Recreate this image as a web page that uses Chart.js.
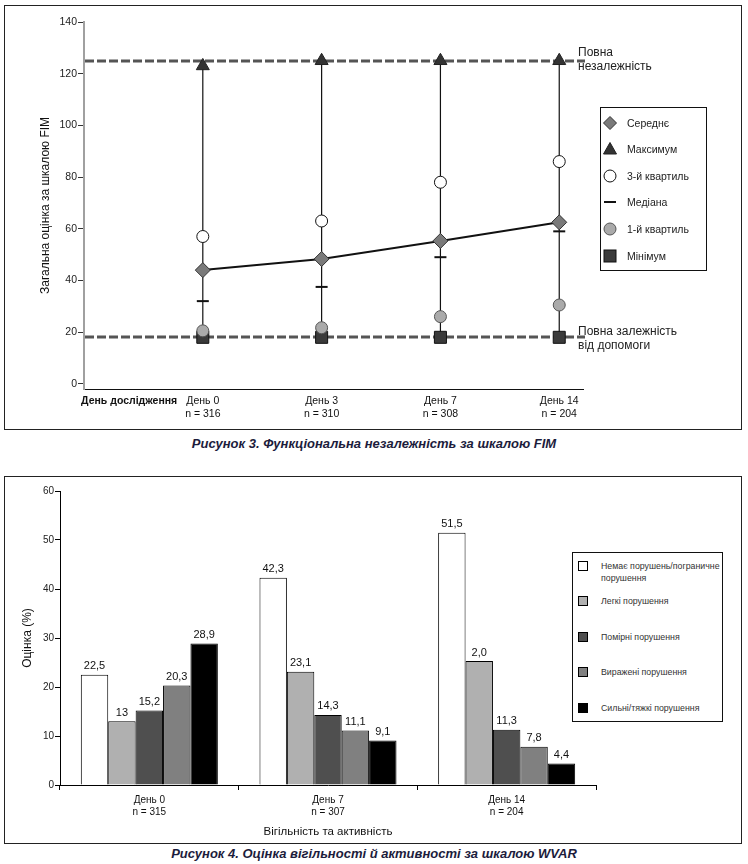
<!DOCTYPE html>
<html><head><meta charset="utf-8">
<script src="https://cdn.jsdelivr.net/npm/chart.js@4.4.1/dist/chart.umd.min.js"></script>
<style>
body{margin:0;background:#fff;width:748px;height:864px;position:relative;overflow:hidden;font-family:"Liberation Sans",Arial,sans-serif;}
.box{position:absolute;border:1.5px solid #222;box-sizing:border-box;}
#box1{left:4px;top:5px;width:738px;height:425px;}
#box2{left:4px;top:476px;width:738px;height:368px;}
.wrap{position:absolute;left:0;}
#w1{top:0;width:748px;height:430px;}
#w2{top:477px;width:748px;height:366px;}
.cap{position:absolute;left:0;width:748px;text-align:center;font-weight:bold;font-style:italic;font-size:13px;color:#1c1c3c;line-height:16px;}
.note{position:absolute;left:578px;font-size:12px;color:#222;line-height:14px;white-space:nowrap;}
.legend{position:absolute;border:1.5px solid #111;box-sizing:border-box;background:#fff;}
.li{position:absolute;left:0;height:14px;white-space:nowrap;}
.li svg{position:absolute;top:0;}
.li span{position:absolute;top:0;line-height:14px;}
#leg1 .li span{left:26px;font-size:10.5px;color:#222;}
#leg2 .li span{left:28px;font-size:8.8px;color:#333;line-height:12px;}
</style></head>
<body>
<div class="box" id="box1"></div>
<div class="box" id="box2"></div>
<div class="wrap" id="w1"><canvas id="c1"></canvas></div>
<div class="wrap" id="w2"><canvas id="c2"></canvas></div>
<div class="note" style="top:45px">Повна<br>незалежність</div>
<div class="note" style="top:324px">Повна залежність<br>від допомоги</div>
<div class="legend" id="leg1" style="left:600px;top:107px;width:107px;height:164px;"></div>
<div class="legend" id="leg2" style="left:572px;top:552px;width:151px;height:170px;"></div>
<div class="cap" style="top:436px">Рисунок 3. Функціональна незалежність за шкалою FIM</div>
<div class="cap" style="top:846px">Рисунок 4. Оцінка вігільності й активності за шкалою WVAR</div>
<script>
// ---------- Figure 3 data (FIM) ----------
const fimDays = ['День 0', 'День 3', 'День 7', 'День 14'];
const fimN = ['n = 316', 'n = 310', 'n = 308', 'n = 204'];
const fimAxisLabel = 'День дослідження';
const fimMean = [44, 48.3, 55.3, 62.5];
const fimMax = [123, 125, 125, 125];
const fimQ3 = [57, 63, 78, 86];
const fimMedian = [32, 37.5, 49, 59];
const fimQ1 = [20.5, 21.7, 26, 30.5];
const fimMin = [18, 18, 18, 18];
const fimFullIndependence = 125;
const fimFullDependence = 18;
const fimYTicks = [0, 20, 40, 60, 80, 100, 120, 140];
const fimLegendNames = ['Середнє', 'Максимум', '3-й квартиль', 'Медіана', '1-й квартиль', 'Мінімум'];

// ---------- Figure 4 data (WVAR) ----------
const wvarGroups = ['День 0', 'День 7', 'День 14'];
const wvarN = ['n = 315', 'n = 307', 'n = 204'];
const wvarSeries = ['Немає порушень/пограничне порушення', 'Легкі порушення', 'Помірні порушення', 'Виражені порушення', 'Сильні/тяжкі порушення'];
const wvarNone = [22.5, 42.3, 51.5];
const wvarMild = [13, 23.1, 25.3];
const wvarModerate = [15.2, 14.3, 11.3];
const wvarMarked = [20.3, 11.1, 7.8];
const wvarSevere = [28.9, 9.1, 4.4];
const wvarNoneLbl = ['22,5', '42,3', '51,5'];
const wvarMildLbl = ['13', '23,1', '2,0'];
const wvarModerateLbl = ['15,2', '14,3', '11,3'];
const wvarMarkedLbl = ['20,3', '11,1', '7,8'];
const wvarSevereLbl = ['28,9', '9,1', '4,4'];
const wvarYTicks = [0, 10, 20, 30, 40, 50, 60];

const FONT = '"Liberation Sans", Arial, sans-serif';
Chart.defaults.font.family = FONT;
Chart.defaults.color = '#222';

// ---------- Chart 1 ----------
const pts = arr => arr.map((v, i) => ({x: i, y: v}));
const rangeData = [];
fimDays.forEach((d, i) => { rangeData.push({x: i, y: fimMin[i]}, {x: i, y: fimMax[i]}, {x: i, y: null}); });

const styles1 = {
  mean: {pointStyle: 'rectRot', radius: 7.5, bg: '#7a7a7a', bc: '#333'},
  max: {pointStyle: 'triangle', radius: 7.5, bg: '#333', bc: '#222'},
  q3: {pointStyle: 'circle', radius: 6, bg: '#fff', bc: '#111'},
  med: {pointStyle: 'line', radius: 6, bg: '#111', bc: '#111'},
  q1: {pointStyle: 'circle', radius: 6, bg: '#aaa', bc: '#555'},
  min: {pointStyle: 'rect', radius: 8.5, bg: '#3a3a3a', bc: '#111'}
};
function ds(label, data, st, extra) {
  return Object.assign({label, data, showLine: false, pointStyle: st.pointStyle, pointRadius: st.radius,
    pointBackgroundColor: st.bg, pointBorderColor: st.bc, pointBorderWidth: st.pointStyle === 'line' ? 2 : 1}, extra || {});
}

const refLines = {
  id: 'refLines',
  beforeDatasetsDraw(chart) {
    const {ctx, chartArea, scales: {y}} = chart;
    ctx.save();
    ctx.strokeStyle = '#555';
    ctx.lineWidth = 3;
    ctx.setLineDash([9, 3]);
    [fimFullIndependence, fimFullDependence].forEach(v => {
      const py = Math.round(y.getPixelForValue(v));
      ctx.beginPath();
      ctx.moveTo(chartArea.left + 1, py);
      ctx.lineTo(chartArea.right + 2, py);
      ctx.stroke();
    });
    ctx.restore();
  }
};

new Chart(document.getElementById('c1'), {
  type: 'line',
  data: {
    datasets: [
      ds(fimLegendNames[0], pts(fimMean), styles1.mean, {showLine: true, borderColor: '#111', borderWidth: 2, tension: 0, order: 1}),
      ds(fimLegendNames[1], pts(fimMax), styles1.max, {order: 2}),
      ds(fimLegendNames[2], pts(fimQ3), styles1.q3, {order: 3}),
      ds(fimLegendNames[3], pts(fimMedian), styles1.med, {order: 4}),
      ds(fimLegendNames[4], pts(fimQ1), styles1.q1, {order: 5}),
      ds(fimLegendNames[5], pts(fimMin), styles1.min, {order: 6}),
      {label: 'range', data: rangeData, showLine: true, spanGaps: false, borderColor: '#111', borderWidth: 1.2, pointRadius: 0, order: 10}
    ]
  },
  options: {
    responsive: true, maintainAspectRatio: false, animation: false,
    layout: {padding: {top: 22, right: 165, left: 0, bottom: 0}},
    plugins: {legend: {display: false}, tooltip: {enabled: false}},
    scales: {
      x: {
        type: 'linear', min: -1, max: 3.2, offset: false,
        afterBuildTicks: s => { s.ticks = [-0.62, 0, 1, 2, 3].map(v => ({value: v})); },
        afterFit: s => { s.height = 41; },
        grid: {display: false, drawTicks: false},
        border: {display: true, color: '#111', width: 1},
        ticks: {
          autoSkip: false, maxRotation: 0, padding: 6, color: '#111',
          callback: (v, i) => i === 0 ? fimAxisLabel : [fimDays[i - 1], fimN[i - 1]],
          font: c => c.index === 0 ? {size: 10.5, weight: 'bold'} : {size: 10.5}
        }
      },
      y: {
        type: 'linear', min: -2, max: 140,
        afterBuildTicks: s => { s.ticks = fimYTicks.map(v => ({value: v})); },
        afterFit: s => { s.width = 84; },
        grid: {drawOnChartArea: false, tickLength: 6, color: '#333'},
        border: {display: true, color: '#a0a0a0', width: 2},
        ticks: {font: {size: 10.5}, padding: 1, color: '#222'},
        title: {display: true, text: 'Загальна оцінка за шкалою FIM', font: {size: 12}, color: '#111', padding: {top: 38, bottom: 0}}
      }
    }
  },
  plugins: [refLines]
});

// ---------- Chart 2 ----------
const barColors = ['#ffffff', '#b0b0b0', '#4f4f4f', '#808080', '#000000'];
const barValues = [wvarNone, wvarMild, wvarModerate, wvarMarked, wvarSevere];
const barLabels = [wvarNoneLbl, wvarMildLbl, wvarModerateLbl, wvarMarkedLbl, wvarSevereLbl];

const valueLabels = {
  id: 'valueLabels',
  afterDatasetsDraw(chart) {
    const {ctx} = chart;
    ctx.save();
    ctx.font = '11px ' + FONT;
    ctx.fillStyle = '#111';
    ctx.textAlign = 'center';
    ctx.textBaseline = 'bottom';
    chart.data.datasets.forEach((d, di) => {
      chart.getDatasetMeta(di).data.forEach((el, i) => {
        ctx.fillText(barLabels[di][i], el.x, el.y - 3);
      });
    });
    ctx.restore();
  }
};

new Chart(document.getElementById('c2'), {
  type: 'bar',
  data: {
    labels: wvarGroups.map((g, i) => [g, wvarN[i]]),
    datasets: wvarSeries.map((name, i) => ({
      label: name, data: barValues[i], backgroundColor: barColors[i], borderColor: '#000', borderWidth: 1,
      barPercentage: 1, categoryPercentage: 0.767
    }))
  },
  options: {
    responsive: true, maintainAspectRatio: false, animation: false,
    layout: {padding: {top: 14, right: 152, left: 0, bottom: 0}},
    plugins: {legend: {display: false}, tooltip: {enabled: false}},
    scales: {
      x: {
        afterFit: s => { s.height = 58; },
        grid: {display: true, drawOnChartArea: false, offset: true, tickLength: 5, color: '#000'},
        border: {display: true, color: '#000', width: 1},
        ticks: {font: {size: 10}, color: '#111', padding: 4, maxRotation: 0},
        title: {display: true, text: 'Вігільність та активність', font: {size: 11.5}, color: '#111', padding: {top: 0, bottom: 4}}
      },
      y: {
        min: 0, max: 60,
        afterBuildTicks: s => { s.ticks = wvarYTicks.map(v => ({value: v})); },
        afterFit: s => { s.width = 60; },
        grid: {drawOnChartArea: false, tickLength: 5, color: '#000'},
        border: {display: true, color: '#000', width: 1},
        ticks: {font: {size: 10}, padding: 1, color: '#222'},
        title: {display: true, text: 'Оцінка (%)', font: {size: 12}, color: '#111', padding: {top: 20, bottom: 0}}
      }
    }
  },
  plugins: [valueLabels]
});

// ---------- HTML legends ----------
function svgMarker(st, size) {
  const c = size / 2;
  let shape = '';
  if (st.pointStyle === 'rectRot') shape = `<polygon points="${c},${c-6.5} ${c+6.5},${c} ${c},${c+6.5} ${c-6.5},${c}" fill="${st.bg}" stroke="${st.bc}"/>`;
  else if (st.pointStyle === 'triangle') shape = `<polygon points="${c},${c-6.5} ${c+6.5},${c+5} ${c-6.5},${c+5}" fill="${st.bg}" stroke="${st.bc}"/>`;
  else if (st.pointStyle === 'circle') shape = `<circle cx="${c}" cy="${c}" r="6" fill="${st.bg}" stroke="${st.bc}"/>`;
  else if (st.pointStyle === 'line') shape = `<line x1="${c-6}" y1="${c}" x2="${c+6}" y2="${c}" stroke="${st.bc}" stroke-width="2"/>`;
  else shape = `<rect x="${c-6}" y="${c-6}" width="12" height="12" fill="${st.bg}" stroke="${st.bc}"/>`;
  return `<svg width="${size}" height="${size}" viewBox="0 0 ${size} ${size}">${shape}</svg>`;
}
const leg1 = document.getElementById('leg1');
const st1 = [styles1.mean, styles1.max, styles1.q3, styles1.med, styles1.q1, styles1.min];
const leg1Y = [15, 41, 68, 94, 121, 148];
fimLegendNames.forEach((n, i) => {
  const d = document.createElement('div');
  d.className = 'li';
  d.style.top = (leg1Y[i] - 8) + 'px';
  d.style.height = '16px';
  d.innerHTML = svgMarker(st1[i], 16).replace('<svg', '<svg style="left:1px"') + `<span style="top:1px">${n}</span>`;
  leg1.appendChild(d);
});
const leg2 = document.getElementById('leg2');
const leg2Y = [13, 48, 84, 119, 155];
wvarSeries.forEach((n, i) => {
  const d = document.createElement('div');
  d.className = 'li';
  d.style.top = (leg2Y[i] - 6) + 'px';
  const txt = i === 0 ? 'Немає порушень/пограничне<br>порушення' : n;
  d.innerHTML = `<svg width="12" height="12" style="left:4px;top:0"><rect x="1.5" y="1.5" width="9" height="9" fill="${barColors[i]}" stroke="#000"/></svg><span>${txt}</span>`;
  leg2.appendChild(d);
});
</script>
</body></html>
